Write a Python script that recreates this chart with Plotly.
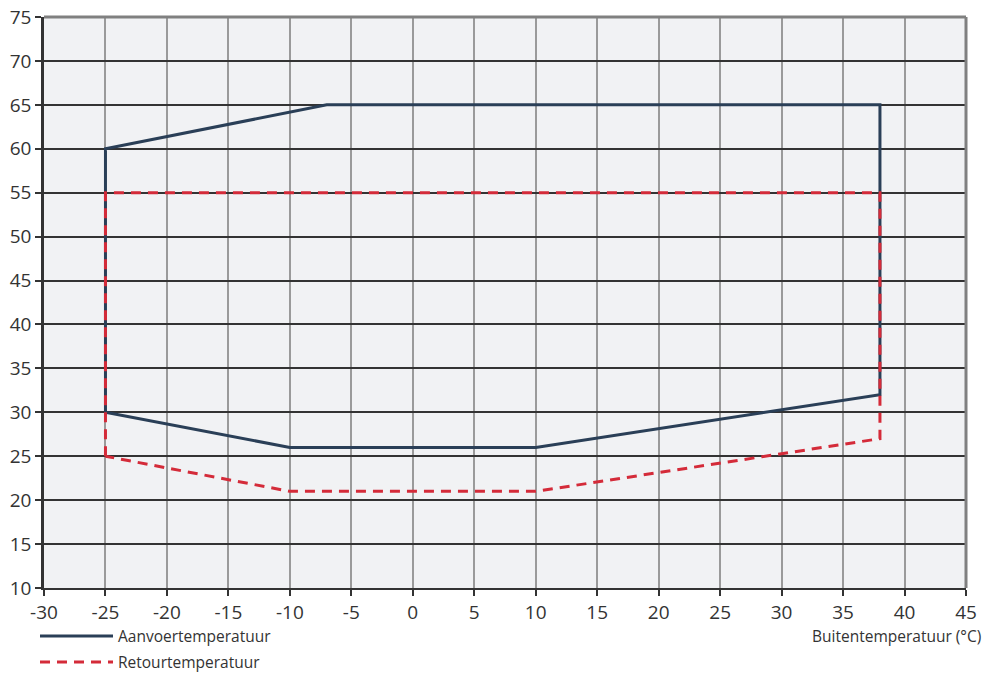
import plotly.graph_objects as go

# Data
supply_x = [-25, -25, -7, 38, 38, 10, -10, -25]
supply_y = [30, 60, 65, 65, 32, 26, 26, 30]
return_x = [-25, -25, 38, 38, 10, -10, -25]
return_y = [25, 55, 55, 27, 21, 21, 25]
supply_name = "Aanvoertemperatuur"
return_name = "Retourtemperatuur"
x_title = "Buitentemperatuur (°C)"
x_ticks = list(range(-30, 50, 5))
y_ticks = list(range(10, 80, 5))

BLUE = "#2a3f57"
RED = "#d42b39"
FONT = "Open Sans"

fig = go.Figure()
fig.add_trace(go.Scatter(x=supply_x, y=supply_y, mode="lines", name=supply_name,
                         line=dict(color=BLUE, width=3), showlegend=False))
fig.add_trace(go.Scatter(x=return_x, y=return_y, mode="lines", name=return_name,
                         line=dict(color=RED, width=3, dash="10px,7px"), showlegend=False))

W, H = 986, 675
L, R, T, B = 44, 20, 17, 87
pw, ph = W - L - R, H - T - B

def px(xp):
    return (xp - L) / pw

def py(yp):
    return (H - B - yp) / ph

fig.update_layout(
    width=W, height=H,
    margin=dict(l=L, r=R, t=T, b=B, pad=0, autoexpand=False),
    paper_bgcolor="white", plot_bgcolor="#f1f2f4",
    font=dict(family=FONT, color="#333333"),
    showlegend=False,
    xaxis=dict(range=[-30, 45], tickvals=x_ticks, ticktext=[str(v) for v in x_ticks],
               showgrid=True, gridcolor="#9a9a9a", gridwidth=1.5, zeroline=False,
               showline=True, linecolor="#333333", linewidth=2,
               ticks="outside", ticklen=6, tickcolor="#333333", tickwidth=1.5,
               tickfont=dict(size=19, family=FONT, color="#333333")),
    yaxis=dict(range=[10, 75], tickvals=y_ticks, ticktext=[str(v) for v in y_ticks],
               showgrid=True, gridcolor="#333333", gridwidth=1.5, zeroline=False,
               showline=True, linecolor="#333333", linewidth=2.5,
               ticks="outside", ticklen=6, tickcolor="#333333", tickwidth=1.5,
               tickfont=dict(size=19, family=FONT, color="#333333")),
)

# top and right borders (gray)
fig.add_shape(type="line", xref="paper", yref="paper", x0=0, x1=1, y0=1, y1=1,
              line=dict(color="#808080", width=3))
fig.add_shape(type="line", xref="paper", yref="paper", x0=1, x1=1, y0=0, y1=1,
              line=dict(color="#808080", width=3))

# legend drawn manually
fig.add_shape(type="line", xref="paper", yref="paper", x0=px(40), x1=px(113),
              y0=py(636), y1=py(636), line=dict(color=BLUE, width=3))
fig.add_shape(type="line", xref="paper", yref="paper", x0=px(40), x1=px(113),
              y0=py(662), y1=py(662), line=dict(color=RED, width=3, dash="10px,7px"))
fig.add_annotation(xref="paper", yref="paper", x=px(116), y=py(636), text=supply_name,
                   showarrow=False, xanchor="left", yanchor="middle",
                   font=dict(size=15.5, family=FONT, color="#333333"))
fig.add_annotation(xref="paper", yref="paper", x=px(116), y=py(662), text=return_name,
                   showarrow=False, xanchor="left", yanchor="middle",
                   font=dict(size=15.5, family=FONT, color="#333333"))
fig.add_annotation(xref="paper", yref="paper", x=px(983), y=py(636), text=x_title,
                   showarrow=False, xanchor="right", yanchor="middle",
                   font=dict(size=15.5, family=FONT, color="#333333"))

fig.write_html("out.html", config={"displayModeBar": False},
               post_script="document.body.style.margin='0';document.body.style.overflow='hidden';")
